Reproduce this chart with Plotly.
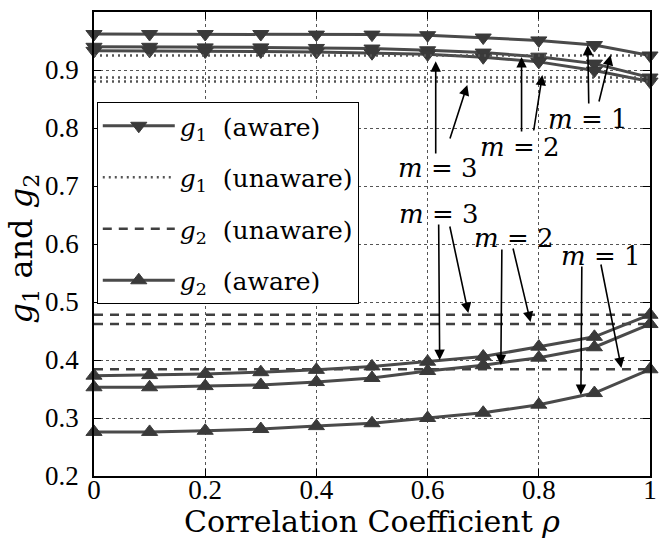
import plotly.graph_objects as go

# Correlation coefficient grid
rho = [0.0, 0.1, 0.2, 0.3, 0.4, 0.5, 0.6, 0.7, 0.8, 0.9, 1.0]

# g1 with correlation-aware scheme, per number of users m
g1_aware_m1 = [0.962, 0.962, 0.962, 0.962, 0.961, 0.961, 0.960, 0.956, 0.951, 0.943, 0.925]
g1_aware_m2 = [0.940, 0.940, 0.939, 0.939, 0.938, 0.937, 0.934, 0.930, 0.923, 0.911, 0.887]
g1_aware_m3 = [0.933, 0.933, 0.932, 0.932, 0.931, 0.929, 0.927, 0.922, 0.914, 0.899, 0.880]

# g1 with correlation-unaware scheme (constant in rho)
g1_unaware_m1 = 0.925
g1_unaware_m2 = 0.887
g1_unaware_m3 = 0.880

# g2 with correlation-unaware scheme (constant in rho)
g2_unaware_m1 = 0.384
g2_unaware_m2 = 0.462
g2_unaware_m3 = 0.478

# g2 with correlation-aware scheme
g2_aware_m1 = [0.276, 0.276, 0.278, 0.281, 0.286, 0.291, 0.300, 0.309, 0.323, 0.343, 0.384]
g2_aware_m2 = [0.353, 0.353, 0.355, 0.357, 0.362, 0.369, 0.381, 0.391, 0.404, 0.422, 0.462]
g2_aware_m3 = [0.373, 0.374, 0.376, 0.379, 0.383, 0.389, 0.397, 0.406, 0.423, 0.440, 0.478]

x_ticks = [0, 0.2, 0.4, 0.6, 0.8, 1]
x_ticktext = ["0", "0.2", "0.4", "0.6", "0.8", "1"]
y_ticks = [0.2, 0.3, 0.4, 0.5, 0.6, 0.7, 0.8, 0.9, 1]
y_ticktext = ["0.2", "0.3", "0.4", "0.5", "0.6", "0.7", "0.8", "0.9", "1"]

legend_names = {
    "g1a": "<i>g</i><sub>1</sub>  (aware)",
    "g1u": "<i>g</i><sub>1</sub>  (unaware)",
    "g2u": "<i>g</i><sub>2</sub>  (unaware)",
    "g2a": "<i>g</i><sub>2</sub>  (aware)",
}

SERIF = "DejaVu Serif"
TICKFONT = "Liberation Serif"
LINE_C = "#4a4a4a"
MARK_C = "#3a3a3a"

fig = go.Figure()


def add_aware(values, group, symbol, first):
    fig.add_trace(go.Scatter(
        x=rho, y=values, mode="lines+markers",
        line=dict(color=LINE_C, width=3),
        marker=dict(symbol=symbol, size=14, color=MARK_C,
                    line=dict(color=MARK_C, width=1)),
        name=legend_names[group], legendgroup=group, showlegend=first,
        cliponaxis=False,
    ))


def add_flat(level, group, dash, color, width, first):
    fig.add_trace(go.Scatter(
        x=rho, y=[level] * len(rho), mode="lines",
        line=dict(color=color, width=width, dash=dash),
        name=legend_names[group], legendgroup=group, showlegend=first,
    ))


for i, vals in enumerate([g1_aware_m1, g1_aware_m2, g1_aware_m3]):
    add_aware(vals, "g1a", "triangle-down", i == 0)
for i, lvl in enumerate([g1_unaware_m1, g1_unaware_m2, g1_unaware_m3]):
    add_flat(lvl, "g1u", "2px,4px", "#555555", 2.5, i == 0)
for i, lvl in enumerate([g2_unaware_m1, g2_unaware_m2, g2_unaware_m3]):
    add_flat(lvl, "g2u", "9px,7px", "#404040", 2.5, i == 0)
for i, vals in enumerate([g2_aware_m1, g2_aware_m2, g2_aware_m3]):
    add_aware(vals, "g2a", "triangle-up", i == 0)

# Callout labels and arrows: (label, text x, text y, [(tail x, tail y, head x, head y), ...])
callouts = [
    ("3", 0.618, 0.731, [(0.6146, 0.7534, 0.6146, 0.915), (0.6394, 0.7793, 0.6714, 0.8741)]),
    ("2", 0.767, 0.767, [(0.7690, 0.7914, 0.7690, 0.9224), (0.7904, 0.7931, 0.8064, 0.8914)]),
    ("1", 0.888, 0.8155, [(0.8899, 0.8397, 0.8881, 0.9431), (0.9076, 0.8431, 0.9290, 0.9259)]),
    ("3", 0.6200, 0.6510, [(0.6199, 0.6362, 0.6217, 0.4000), (0.6394, 0.6328, 0.6732, 0.4810)]),
    ("2", 0.7560, 0.6100, [(0.7336, 0.5931, 0.7318, 0.3914), (0.7531, 0.5948, 0.7851, 0.4655)]),
    ("1", 0.9112, 0.5793, [(0.8774, 0.5638, 0.8757, 0.3397), (0.9112, 0.5672, 0.9485, 0.3862)]),
]

annotations = []
for label, tx, ty, arrows in callouts:
    for (ax0, ay0, hx, hy) in arrows:
        annotations.append(dict(
            x=hx, y=hy, ax=ax0, ay=ay0, xref="x", yref="y", axref="x", ayref="y",
            text="", showarrow=True, arrowhead=2, arrowsize=1.3, arrowwidth=1.6,
            arrowcolor="black", standoff=0, startstandoff=0,
        ))
    annotations.append(dict(
        x=tx, y=ty, xref="x", yref="y", showarrow=False,
        text=f"<i>m</i>\u00a0=\u00a0{label}",
        font=dict(family=SERIF, size=26, color="black"),
        xanchor="center", yanchor="middle",
    ))

# Axis titles
annotations.append(dict(
    x=0.5, y=-0.099, xref="paper", yref="paper", showarrow=False,
    text="Correlation Coefficient <i>\u03c1</i>",
    font=dict(family=SERIF, size=30, color="black"),
    xanchor="center", yanchor="middle",
))
annotations.append(dict(
    x=-0.128, y=0.49, xref="paper", yref="paper", showarrow=False,
    text="<i>g</i><sub>1</sub> and <i>g</i><sub>2</sub>", textangle=-90,
    font=dict(family=SERIF, size=32, color="black"),
    xanchor="center", yanchor="middle",
))

axis_common = dict(
    showline=True, linecolor="black", linewidth=1.5, mirror="ticks",
    ticks="inside", ticklen=7, tickcolor="black", tickwidth=1,
    showgrid=True, gridcolor="#555555", gridwidth=1, griddash="dot",
    zeroline=False,
    tickfont=dict(family=TICKFONT, size=27, color="black"),
)

fig.update_layout(
    width=664, height=547,
    margin=dict(l=94, r=7, t=12, b=71),
    paper_bgcolor="white", plot_bgcolor="white",
    xaxis=dict(range=[0, 1], tickvals=x_ticks, ticktext=x_ticktext,
               ticklabelstandoff=-11, **axis_common),
    yaxis=dict(range=[0.2, 1], tickvals=y_ticks, ticktext=y_ticktext,
               ticklabelstandoff=8, **axis_common),
    legend=dict(
        x=0.005, y=0.806, xanchor="left", yanchor="top",
        bgcolor="white", bordercolor="black", borderwidth=1,
        font=dict(family=SERIF, size=25, color="black"),
        itemwidth=72, traceorder="grouped", tracegroupgap=16,
    ),
    annotations=annotations,
    showlegend=True,
)

fig.write_html("out.html")
